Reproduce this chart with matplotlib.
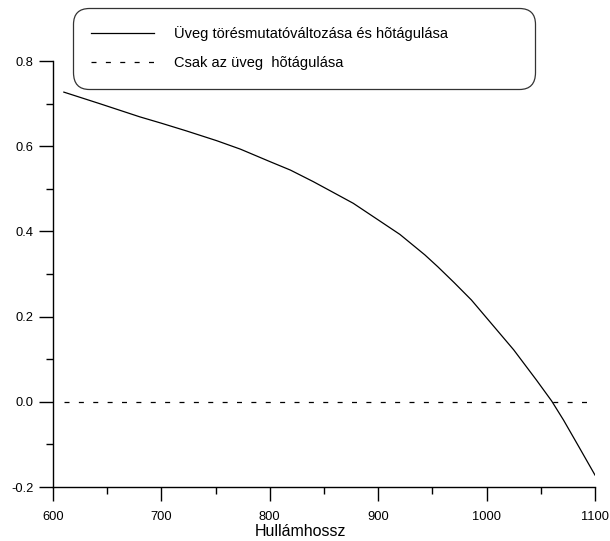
import matplotlib
matplotlib.use("Agg")
import matplotlib.pyplot as plt
from matplotlib.ticker import MultipleLocator

plt.rcParams['font.family'] = ['Liberation Sans', 'DejaVu Sans']

# Data
wavelength = [610, 643, 680, 700, 723, 751, 773, 800, 819, 840, 856, 877, 900,
              920, 943, 955, 970, 986, 1000, 1012, 1025, 1046, 1060, 1071, 1085, 1100]
both_effects = [0.727, 0.700, 0.669, 0.654, 0.636, 0.613, 0.593, 0.564, 0.544, 0.517,
                0.495, 0.466, 0.427, 0.393, 0.345, 0.317, 0.280, 0.239, 0.197,
                0.161, 0.122, 0.051, 0.002, -0.043, -0.105, -0.172]
dash_x = [610, 1100]
expansion_only = [0.0, 0.0]

label_both = "Üveg törésmutatóváltozása és hõtágulása"
label_exp = "Csak az üveg  hõtágulása"
xlabel = "Hullámhossz"

fig = plt.figure(figsize=(6.10, 5.41), dpi=100)
ax = fig.add_axes([0.0869, 0.0998, 0.8885, 0.7874])

ax.plot(wavelength, both_effects, color='black', lw=0.9, label=label_both)
ax.plot(dash_x, expansion_only, color='black', lw=0.9, dashes=(4, 7.5), label=label_exp)

ax.set_xlim(600, 1100)
ax.set_ylim(-0.2, 0.8)
ax.xaxis.set_major_locator(MultipleLocator(100))
ax.xaxis.set_minor_locator(MultipleLocator(50))
ax.yaxis.set_major_locator(MultipleLocator(0.2))
ax.yaxis.set_minor_locator(MultipleLocator(0.1))
ax.yaxis.set_major_formatter(plt.FuncFormatter(lambda v, p: f"{v:.1f}"))

for s in ['top', 'right']:
    ax.spines[s].set_visible(False)
for s in ['left', 'bottom']:
    ax.spines[s].set_linewidth(1.0)

ax.tick_params(axis='both', which='major', direction='out', length=10, width=1.0, labelsize=9.3)
ax.tick_params(axis='both', which='minor', direction='out', length=5, width=1.0)
ax.tick_params(axis='x', which='major', pad=7)
ax.tick_params(axis='y', which='major', pad=4)

ax.set_xlabel(xlabel, fontsize=11.5)
ax.xaxis.set_label_coords(0.457, -0.088)

leg = ax.legend(loc='upper left', bbox_to_anchor=(0.119, 0.8368, 0.758, 0.148),
                bbox_transform=fig.transFigure, mode='expand', borderaxespad=0,
                fontsize=10.5, handlelength=4.3, handletextpad=1.37,
                borderpad=1.25, labelspacing=1.02, frameon=True, fancybox=True)
frame = leg.get_frame()
frame.set_edgecolor('black')
frame.set_linewidth(0.9)
frame.set_boxstyle("round,pad=0,rounding_size=1.1")

fig.savefig("out.png", dpi=100)
